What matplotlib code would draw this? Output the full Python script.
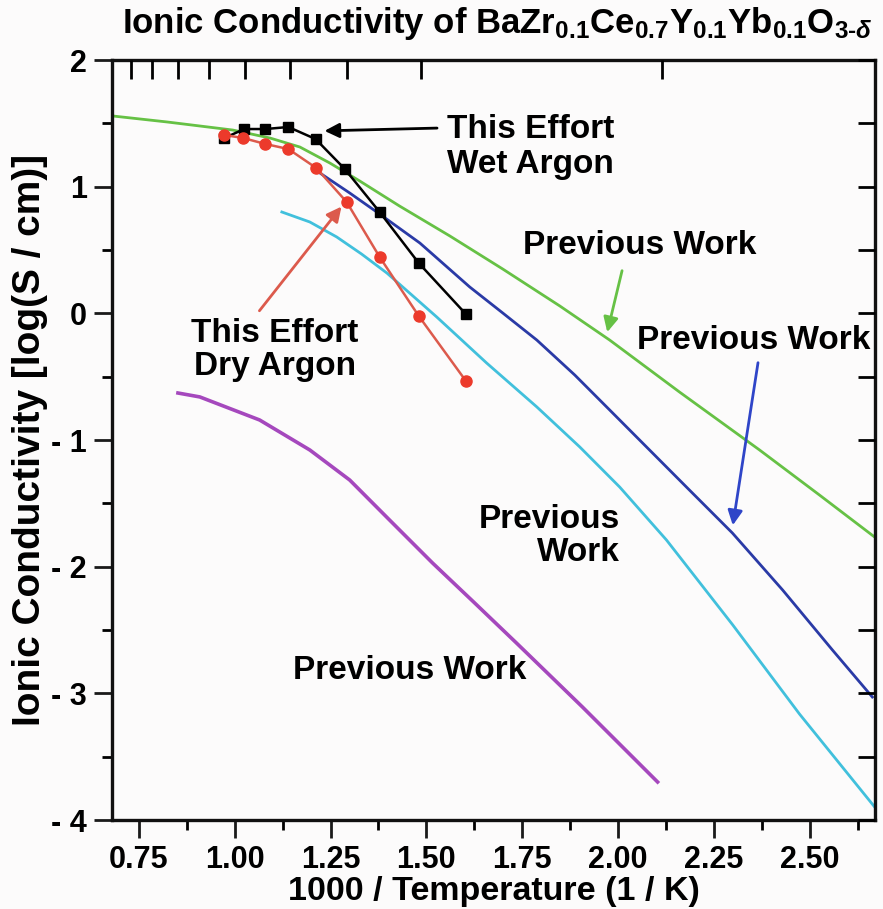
import matplotlib
matplotlib.use("Agg")
import matplotlib.pyplot as plt
from matplotlib.ticker import FixedLocator, MultipleLocator

plt.rcParams['font.family'] = ['Liberation Sans', 'DejaVu Sans']
plt.rcParams['font.weight'] = 'bold'
plt.rcParams['mathtext.fontset'] = 'custom'
plt.rcParams['mathtext.rm'] = 'Liberation Sans:bold'
plt.rcParams['mathtext.bf'] = 'Liberation Sans:bold'
plt.rcParams['mathtext.it'] = 'Liberation Sans:bold:italic'

# ---- data ----
wet_x = [0.973, 1.025, 1.080, 1.140, 1.211, 1.287, 1.378, 1.480, 1.603]
wet_y = [1.384, 1.455, 1.455, 1.471, 1.376, 1.140, 0.800, 0.397, -0.006]

dry_x = [0.973, 1.022, 1.080, 1.140, 1.213, 1.292, 1.378, 1.480, 1.603]
dry_y = [1.408, 1.384, 1.337, 1.297, 1.147, 0.879, 0.445, -0.021, -0.534]

green_x = [0.682, 0.823, 0.995, 1.092, 1.170, 1.248, 1.326, 1.430, 1.561, 1.699,
           1.848, 1.978, 2.160, 2.369, 2.525, 2.669]
green_y = [1.558, 1.511, 1.447, 1.384, 1.313, 1.187, 1.045, 0.847, 0.611, 0.350,
           0.058, -0.211, -0.621, -1.079, -1.434, -1.766]

blue_x = [1.204, 1.230, 1.300, 1.378, 1.483, 1.613, 1.699, 1.788, 1.887, 1.978,
          2.082, 2.186, 2.298, 2.429, 2.559, 2.663]
blue_y = [1.147, 1.092, 0.950, 0.784, 0.555, 0.208, 0.003, -0.211, -0.487, -0.763,
          -1.079, -1.395, -1.734, -2.184, -2.658, -3.029]

cyan_x = [1.123, 1.196, 1.266, 1.331, 1.397, 1.527, 1.657, 1.788, 1.900, 2.004,
          2.126, 2.299, 2.473, 2.669]
cyan_y = [0.800, 0.721, 0.603, 0.468, 0.318, -0.029, -0.392, -0.739, -1.055, -1.371,
          -1.789, -2.460, -3.163, -3.897]

mag_x = [0.852, 0.909, 1.065, 1.196, 1.300, 1.404, 1.516, 1.626, 1.735, 1.907, 2.103]
mag_y = [-0.629, -0.660, -0.842, -1.079, -1.316, -1.632, -1.971, -2.287, -2.603, -3.108, -3.700]

x_ticks = [0.75, 1.00, 1.25, 1.50, 1.75, 2.00, 2.25, 2.50]
x_ticklabels = ['0.75', '1.00', '1.25', '1.50', '1.75', '2.00', '2.25', '2.50']
y_ticks = [-4, -3, -2, -1, 0, 1, 2]
y_ticklabels = ['- 4', '- 3', '- 2', '- 1', '0', '1', '2']
top_temps_C = [1100, 1000, 900, 800, 700, 600, 500, 400, 200]

# ---- figure ----
fig = plt.figure(figsize=(8.83, 9.09), dpi=100, facecolor='#fcfbfb')
ax = fig.add_axes([112/883, 89/909, 763/883, 760/909])
ax.set_facecolor('#fcfbfb')

c_green = '#66c145'
c_blue = '#2a3aa6'
c_cyan = '#41c0dc'
c_mag = '#a548bd'
c_red = '#ec3a2b'
c_redline = '#dc5a4c'

ax.plot(green_x, green_y, color=c_green, lw=2.0, zorder=2)
ax.plot(blue_x, blue_y, color=c_blue, lw=2.0, zorder=2)
ax.plot(cyan_x, cyan_y, color=c_cyan, lw=2.0, zorder=2)
ax.plot(mag_x, mag_y, color=c_mag, lw=2.6, zorder=2)

ax.plot(wet_x, wet_y, color='black', lw=1.8, marker='s', ms=7, mfc='black', mec='black', zorder=4)
ax.plot(dry_x, dry_y, color=c_redline, lw=1.8, marker='o', ms=8, mfc=c_red, mec=c_red, zorder=5)

ax.set_xlim(0.68, 2.67)
ax.set_ylim(-4, 2)

# ticks
ax.xaxis.set_major_locator(FixedLocator(x_ticks))
ax.set_xticklabels(x_ticklabels)
ax.xaxis.set_minor_locator(MultipleLocator(0.125))
ax.yaxis.set_major_locator(FixedLocator(y_ticks))
ax.set_yticklabels(y_ticklabels)
ax.yaxis.set_minor_locator(MultipleLocator(0.5))
ax.tick_params(axis='both', which='major', direction='out', length=13, width=2.0,
               labelsize=22, pad=5, colors='#1a1a1a')
ax.tick_params(axis='both', which='minor', direction='out', length=7, width=2.0)
for lab in ax.get_xticklabels() + ax.get_yticklabels():
    lab.set_fontweight('bold')
    lab.set_color('black')

for sp in ax.spines.values():
    sp.set_linewidth(2.4)
    sp.set_color('#111111')

# right ticks (inward, every 0.5)
axr = ax.twinx()
axr.set_ylim(-4, 2)
axr.yaxis.set_major_locator(MultipleLocator(0.5))
axr.tick_params(axis='y', direction='in', length=12, width=2.0, labelright=False)
for sp in axr.spines.values():
    sp.set_visible(False)

# top ticks (inward, temperature scale)
axt = ax.twiny()
axt.set_xlim(ax.get_xlim())
axt.xaxis.set_major_locator(FixedLocator([1000.0 / (t + 273.15) for t in top_temps_C]))
axt.tick_params(axis='x', direction='in', length=14, width=2.0, labeltop=False)
for sp in axt.spines.values():
    sp.set_visible(False)

ax.set_xlabel('1000 / Temperature (1 / K)', fontsize=24.5, fontweight='bold', labelpad=1)
ax.set_ylabel('Ionic Conductivity [log(S / cm)]', fontsize=28, fontweight='bold', labelpad=2)

fig.text(497/883, 1 - 23/909,
         r'Ionic Conductivity of BaZr$_{0.1}$Ce$_{0.7}$Y$_{0.1}$Yb$_{0.1}$O$_{3\text{-}\delta}$',
         fontsize=25, fontweight='bold', ha='center', va='center')

# annotations
tkw = dict(fontsize=24, fontweight='bold', color='black', zorder=6)
ax.annotate('', xy=(1.227, 1.44), xytext=(1.535, 1.463),
            arrowprops=dict(arrowstyle='-|>', color='black', lw=2.0, mutation_scale=22), zorder=6)
ax.text(1.553, 1.313, 'This Effort\nWet Argon', ha='left', va='center', linespacing=1.15, **tkw)

ax.annotate('', xy=(1.283, 0.86), xytext=(1.060, 0.003),
            arrowprops=dict(arrowstyle='-|>', color=c_redline, lw=2.0, mutation_scale=22), zorder=6)
ax.text(1.105, -0.289, 'This Effort\nDry Argon', ha='center', va='center',
        multialignment='center', linespacing=1.05, **tkw)

ax.annotate('', xy=(1.970, -0.17), xytext=(2.012, 0.358),
            arrowprops=dict(arrowstyle='-|>', color=c_green, lw=2.0, mutation_scale=22), zorder=6)
ax.text(2.056, 0.539, 'Previous Work', ha='center', va='center', **tkw)

ax.annotate('', xy=(2.298, -1.695), xytext=(2.366, -0.368),
            arrowprops=dict(arrowstyle='-|>', color='#2f45c8', lw=2.0, mutation_scale=22), zorder=6)
ax.text(2.353, -0.211, 'Previous Work', ha='center', va='center', **tkw)

ax.text(2.004, -1.758, 'Previous\nWork', ha='right', va='center',
        multialignment='right', linespacing=1.12, **tkw)
ax.text(1.456, -2.816, 'Previous Work', ha='center', va='center', **tkw)

fig.savefig('out.png', dpi=100, facecolor=fig.get_facecolor())
